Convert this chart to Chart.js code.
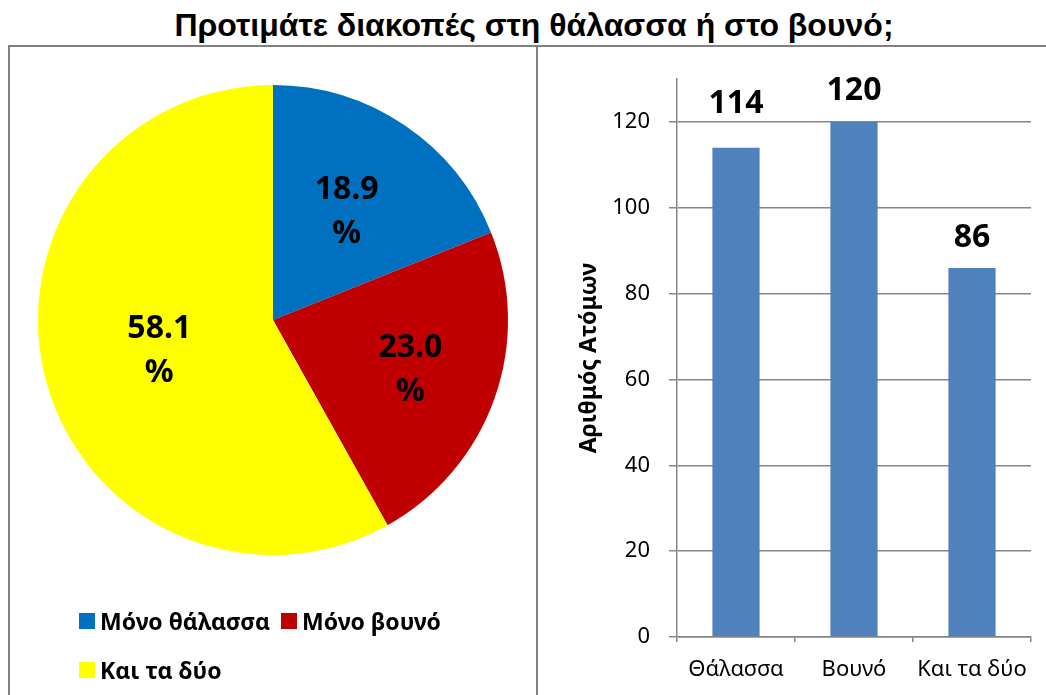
<!DOCTYPE html>
<html>
<head>
<meta charset="utf-8">
<script src="https://cdn.jsdelivr.net/npm/chart.js@4/dist/chart.umd.min.js"></script>
<style>
  html, body { margin:0; padding:0; background:#fff; overflow:hidden; }
  body { width:1046px; height:695px; position:relative; font-family:"Noto Sans", sans-serif; }
  #title { position:absolute; left:0; top:6px; width:1068px; text-align:center; white-space:nowrap;
           font-family:"Liberation Sans", Arial, sans-serif; font-weight:bold; font-size:32px; color:#000; line-height:38px; }
  #leftPanel { position:absolute; left:8px; top:45px; width:530px; height:700px; box-sizing:border-box;
               border-left:2px solid #808080; border-top:2px solid #808080; border-right:2px solid #808080; }
  #rightPanel { position:absolute; left:538px; top:45px; width:520px; height:700px; box-sizing:border-box;
               border-top:2px solid #808080; }
  #pieCanvas { position:absolute; left:10px; top:47px; }
  #barCanvas { position:absolute; left:538px; top:47px; }
  #legend { position:absolute; left:79px; top:604px; width:450px; font-family:"Noto Sans", sans-serif;
            font-weight:bold; font-size:23px; color:#000; }
  .row { display:flex; align-items:center; height:34px; margin-bottom:15px; white-space:nowrap; }
  .item { display:flex; align-items:center; margin-right:11px; }
  .box { width:16px; height:16px; margin-right:5px; }
</style>
</head>
<body>
<div id="title">Προτιμάτε διακοπές στη θάλασσα ή στο βουνό;</div>
<div id="leftPanel"></div>
<div id="rightPanel"></div>
<canvas id="pieCanvas" width="526" height="648"></canvas>
<canvas id="barCanvas" width="508" height="648"></canvas>
<div id="legend"></div>
<script>
// ---- data ----
const pieCategories = ['Μόνο θάλασσα', 'Μόνο βουνό', 'Και τα δύο'];
const pieCounts = [28, 34, 86];
const pieColors = ['#0070C0', '#C00000', '#FFFF00'];

const barCategories = ['Θάλασσα', 'Βουνό', 'Και τα δύο'];
const barValues = [114, 120, 86];
const barColor = '#4F81BD';

const yTicks = [0, 20, 40, 60, 80, 100, 120];
const yMax = 130;
const yTitle = 'Αριθμός Ατόμων';

// ---- pie chart ----
const pieTotal = pieCounts.reduce((a, b) => a + b, 0);
const piePercent = pieCounts.map(v => (v / pieTotal * 100).toFixed(1));

const pieLabelPlugin = {
  id: 'pieLabels',
  afterDatasetsDraw(chart, args, opts) {
    const ctx = chart.ctx;
    const meta = chart.getDatasetMeta(0);
    ctx.save();
    ctx.font = 'bold 32px "Noto Sans", sans-serif';
    ctx.fillStyle = '#000';
    ctx.textAlign = 'center';
    ctx.textBaseline = 'middle';
    meta.data.forEach((arc, i) => {
      const p = arc.getProps(['x', 'y', 'startAngle', 'endAngle', 'outerRadius'], true);
      const mid = (p.startAngle + p.endAngle) / 2;
      const r = p.outerRadius * opts.radial[i];
      const cx = p.x + Math.cos(mid) * r;
      const cy = p.y + Math.sin(mid) * r;
      ctx.fillText(piePercent[i], cx, cy - 21);
      ctx.fillText('%', cx, cy + 23);
    });
    ctx.restore();
  }
};

new Chart(document.getElementById('pieCanvas'), {
  type: 'pie',
  data: {
    labels: pieCategories,
    datasets: [{ data: pieCounts, backgroundColor: pieColors, borderWidth: 0 }]
  },
  options: {
    responsive: false,
    animation: false,
    layout: { padding: { left: 28, right: 28, top: 38, bottom: 140 } },
    plugins: {
      legend: { display: false },
      tooltip: { enabled: false },
      pieLabels: { radial: [0.56, 0.62, 0.5] }
    }
  },
  plugins: [pieLabelPlugin]
});

// HTML legend built from the pie data
(function () {
  const legend = document.getElementById('legend');
  const rows = [[0, 1], [2]];
  rows.forEach(r => {
    const row = document.createElement('div');
    row.className = 'row';
    r.forEach(i => {
      const item = document.createElement('div');
      item.className = 'item';
      const box = document.createElement('div');
      box.className = 'box';
      box.style.background = pieColors[i];
      const txt = document.createElement('span');
      txt.textContent = pieCategories[i];
      item.appendChild(box);
      item.appendChild(txt);
      row.appendChild(item);
    });
    legend.appendChild(row);
  });
})();

// ---- bar chart ----
const barLabelPlugin = {
  id: 'barLabels',
  afterDatasetsDraw(chart, args, opts) {
    const ctx = chart.ctx;
    const meta = chart.getDatasetMeta(0);
    ctx.save();
    ctx.font = 'bold 32px "Noto Sans", sans-serif';
    ctx.fillStyle = '#000';
    ctx.textAlign = 'center';
    ctx.textBaseline = 'alphabetic';
    meta.data.forEach((bar, i) => {
      ctx.fillText(String(barValues[i]), bar.x, bar.y - opts.gap[i]);
    });
    ctx.restore();
  }
};

const gridGray = '#868686';
new Chart(document.getElementById('barCanvas'), {
  type: 'bar',
  data: {
    labels: barCategories,
    datasets: [{ data: barValues, backgroundColor: barColor, borderWidth: 0,
                 barPercentage: 0.4, categoryPercentage: 1.0 }]
  },
  options: {
    responsive: false,
    animation: false,
    layout: { padding: { left: 0, top: 30, right: 15, bottom: 0 } },
    scales: {
      x: {
        offset: true,
        grid: { display: true, drawOnChartArea: false, drawTicks: true, tickLength: 5,
                color: gridGray, lineWidth: 1.5, offset: true },
        border: { display: true, color: gridGray, width: 1.5 },
        ticks: { color: '#000', font: { family: '"Noto Sans", sans-serif', size: 22 }, padding: 15,
                 maxRotation: 0, minRotation: 0, autoSkip: false },
        afterFit(scale) { scale.height = 58; }
      },
      y: {
        min: 0,
        max: yMax,
        afterBuildTicks(scale) { scale.ticks = yTicks.map(v => ({ value: v })); },
        grid: { color: gridGray, lineWidth: 1.5, drawTicks: true, tickLength: 8 },
        border: { display: true, color: gridGray, width: 1.5 },
        ticks: { color: '#000', font: { family: '"Noto Sans", sans-serif', size: 22 }, padding: 19 },
        title: { display: true, text: yTitle, color: '#000',
                 font: { family: '"Noto Sans", sans-serif', size: 23, weight: 'bold' },
                 padding: { top: 38, bottom: 0 } },
        afterFit(scale) { scale.width = 139; }
      }
    },
    plugins: {
      legend: { display: false },
      tooltip: { enabled: false },
      barLabels: { gap: [35, 22, 21] }
    }
  },
  plugins: [barLabelPlugin]
});
</script>
</body>
</html>
